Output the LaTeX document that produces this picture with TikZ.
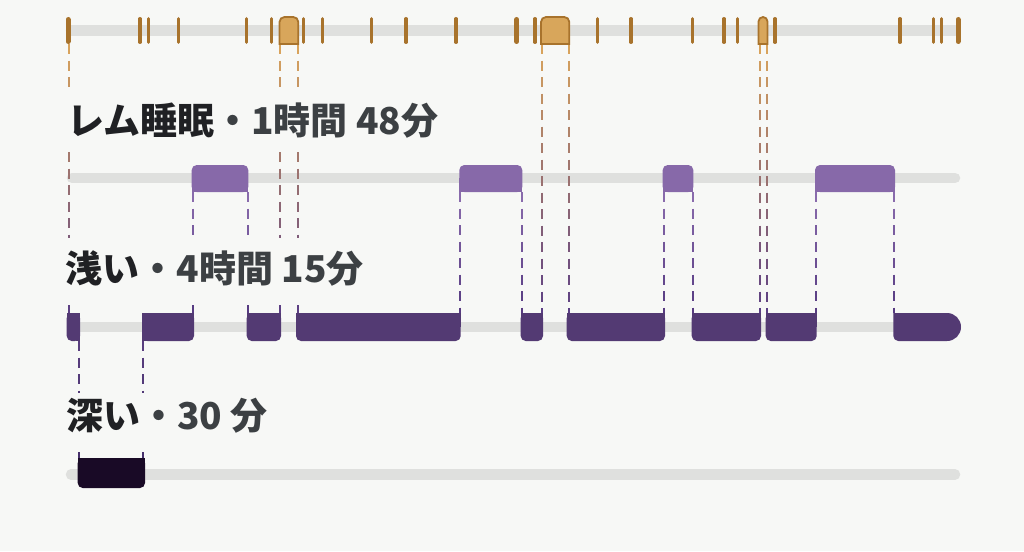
\documentclass[tikz,border=0pt]{standalone}
\usepackage{fontspec}
\newfontfamily\jp{Noto Sans CJK JP}
\definecolor{bgc}{HTML}{F7F8F6}
\definecolor{trackc}{HTML}{DFE0DE}
\definecolor{tickc}{HTML}{A8732C}
\definecolor{awakec}{HTML}{D8A65B}
\definecolor{remc}{HTML}{8769A9}
\definecolor{lightc}{HTML}{533A73}
\definecolor{deepc}{HTML}{190A26}
\definecolor{namec}{HTML}{202124}
\definecolor{infoc}{HTML}{3C4043}
\definecolor{gOrange}{HTML}{D9A45C}
\definecolor{gPurple}{HTML}{5A3E85}
\definecolor{gRemTop}{HTML}{8B6DAE}
\definecolor{gRemBot}{HTML}{553A80}
\definecolor{gLtTop}{HTML}{5A3F80}
\definecolor{gLtBot}{HTML}{45306A}
\tikzset{
  track/.style={draw=trackc, line width=10.5pt, line cap=round},
  tickmark/.style={draw=tickc, line width=3.2pt, line cap=round},
  tickthick/.style={draw=tickc, line width=5pt, line cap=round},
  awakeblk/.style={fill=awakec, draw=tickc, line width=1.8pt},
  dashline/.style={line width=2pt},
  lbl/.style={inner sep=0pt, anchor=base west, text=infoc,
    font=\jp\bfseries\fontsize{37}{41}\selectfont},
}
% gradient dashed vertical line: x, from, to, gradient y0, gradient y1, colour at y0, colour at y1
\newcommand\gdash[7]{%
  \pgfmathtruncatemacro\gdn{floor((#3-#2)/16.5)}%
  \foreach \gdk in {0,...,\gdn}{%
    \pgfmathsetmacro\gdya{#2+16.5*\gdk}%
    \pgfmathsetmacro\gdyb{min(\gdya+10,#3)}%
    \pgfmathsetmacro\gdf{((\gdya+\gdyb)/2-#4)/(#5-#4)}%
    \pgfmathtruncatemacro\gdp{max(0,min(100,\gdf*100))}%
    \colorlet{gdc}{#7!\gdp!#6}%
    \draw[dashline,gdc] (#1,\gdya) -- (#1,\gdyb);
  }}
\begin{document}
\begin{tikzpicture}[x=1pt,y=-1pt]
\useasboundingbox (0,0) rectangle (1024,551);
\fill[bgc] (0,0) rectangle (1024,551);

% ---------- tracks ----------
\draw[track] (71,30.5) -- (955,30.5);
\draw[track] (72,178) -- (955,178);
\draw[track] (72,327) -- (955,327);
\draw[track] (71,474.5) -- (955,474.5);

% ---------- dashed transitions ----------
% from the top track (orange -> purple)
\foreach \xx in {69,280,298}{
  \gdash{\xx}{44}{92}{44}{313}{gOrange}{gPurple}
  \gdash{\xx}{152}{238}{44}{313}{gOrange}{gPurple}
  \gdash{\xx}{305}{313}{44}{313}{gOrange}{gPurple}
}
\foreach \xx in {542,568.5,759.5,767}{
  \gdash{\xx}{44}{313}{44}{313}{gOrange}{gPurple}
}
% from REM bars
\foreach \xx in {192.5,247.5}{
  \gdash{\xx}{192}{238}{192}{313}{gRemTop}{gRemBot}
  \gdash{\xx}{305}{313}{192}{313}{gRemTop}{gRemBot}
}
\foreach \xx in {460,521.5,663.5,692.5,816,894}{
  \gdash{\xx}{192}{313}{192}{313}{gRemTop}{gRemBot}
}
% light -> deep
\foreach \xx in {79,143.3}{
  \gdash{\xx}{341}{393}{341}{458}{gLtTop}{gLtBot}
  \gdash{\xx}{452}{458}{341}{458}{gLtTop}{gLtBot}
}

% ---------- top ticks ----------
\foreach \xx in {140,148.3,178.3,246.7,271.7,303.3,322.7,371.7,406,456,535,597.7,631,692.7,724,737.7,775,900,933.3,941.7}{
  \draw[tickmark] (\xx,18.6) -- (\xx,42.4);
}
\foreach \xx in {68,516.7,958}{
  \draw[tickthick] (\xx,19.5) -- (\xx,41.5);
}
% awake blocks
\foreach \xa/\xb/\rr in {279.5/298.3/5,541/569.3/5,758.5/767.5/4.5}{
  \draw[awakeblk] (\xa,44) -- (\xa,17+\rr) arc[start angle=180,end angle=270,radius=\rr]
    -- (\xb-\rr,17) arc[start angle=270,end angle=360,radius=\rr] -- (\xb,44) -- cycle;
}

% ---------- REM bars ----------
\foreach \xa/\xb in {191.7/248.3,459.3/522.3,662.7/693.3,815/895}{
  \fill[remc, rounded corners=5pt] (\xa,165) rectangle (\xb,192);
  \fill[remc] (\xa,178) rectangle (\xb,192);
}

% ---------- light bars ----------
\foreach \xa/\xb in {66.7/80,142.3/194,246.7/281,296/460.7,520.7/543,566.7/665,691.7/761,765.7/816.7}{
  \fill[lightc, rounded corners=5pt] (\xa,313) rectangle (\xb,341);
  \fill[lightc] (\xa,313) rectangle (\xb,327);
}
\fill[lightc] (80,327) rectangle (76,341);
\fill[lightc] (142.3,327) rectangle (147,341);
\fill[lightc] (893.3,313) -- (947,313) arc[start angle=270,end angle=450,radius=14]
  -- (898.3,341) arc[start angle=90,end angle=180,radius=5] -- cycle;

% ---------- deep bar ----------
\fill[deepc, rounded corners=5pt] (77.7,458) rectangle (145,488);
\fill[deepc] (77.7,458) rectangle (145,473);

% ---------- labels ----------
\node[lbl] (remlbl) at (67,134) {{\color{namec}レム睡眠}・1時間 48分};
\node[lbl] (lightlbl) at (65.5,282) {{\color{namec}浅い}・4時間 15分};
\node[lbl] (deeplbl) at (66,429) {{\color{namec}深い}・30 分};
\end{tikzpicture}
\end{document}
